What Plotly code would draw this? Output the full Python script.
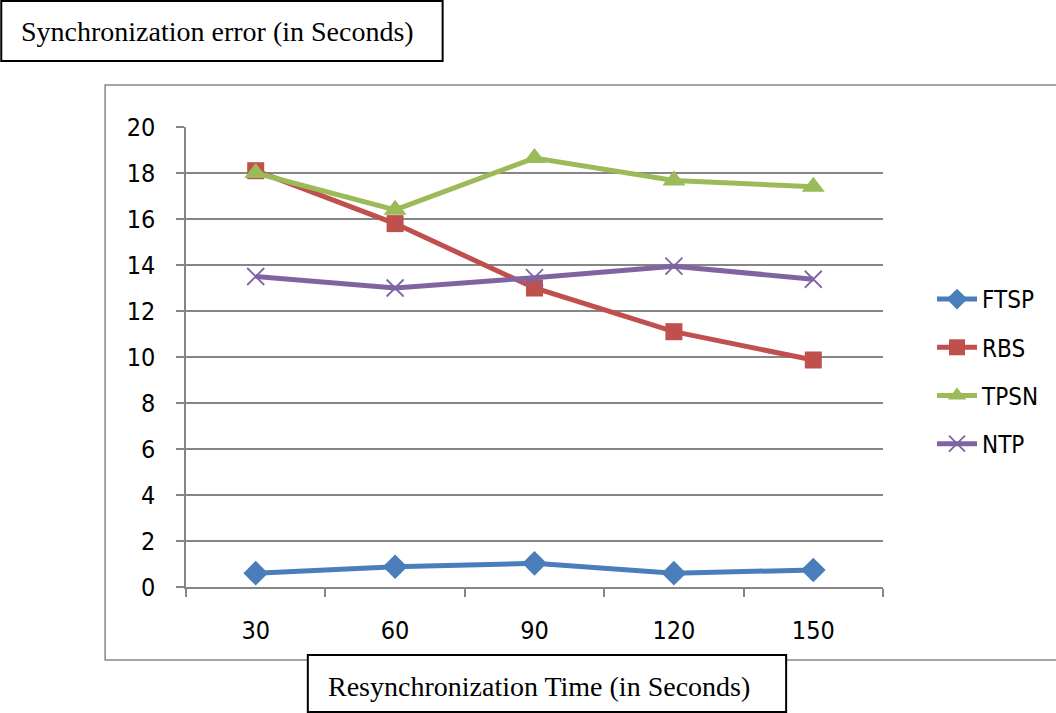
import plotly.graph_objects as go

# Resynchronization interval (s) and measured synchronization error (s)
resync_time = ["30", "60", "90", "120", "150"]
ftsp = [0.60, 0.88, 1.03, 0.60, 0.74]
rbs = [18.1, 15.8, 13.0, 11.1, 9.87]
tpsn = [18.0, 16.4, 18.65, 17.67, 17.4]
ntp = [13.5, 13.0, 13.45, 13.95, 13.38]

series = [
    ("FTSP", ftsp, "#4A7EBB", "diamond", 19),
    ("RBS", rbs, "#C0504D", "square", 17),
    ("TPSN", tpsn, "#9BBB59", "triangle-up", 20),
    ("NTP", ntp, "#8064A2", "x-thin", 17),
]

W, H = 1056, 713
L, R, T, B = 186, 884, 127, 587  # plot area in pixels


def px(x):
    return (x - L) / (R - L)


def py(y):
    return (B - y) / (B - T)


fig = go.Figure()
for name, vals, color, sym, size in series:
    marker = dict(symbol=sym, size=size, color=color)
    if sym == "x-thin":
        marker["line"] = dict(color=color, width=1.8)
    fig.add_trace(go.Scatter(
        x=resync_time, y=vals, name=name, legendgroup=name,
        mode="lines+markers",
        line=dict(color=color, width=5),
        marker=marker,
    ))

axis_font = dict(family="Liberation Sans Narrow, DejaVu Sans Condensed, Arial Narrow, sans-serif",
                 size=25, color="#000000")
legend_font = dict(axis_font, size=24)

fig.update_layout(
    width=W, height=H,
    margin=dict(l=L, r=W - R, t=T, b=H - B, pad=0),
    paper_bgcolor="white", plot_bgcolor="white",
    showlegend=True,
    legend=dict(
        x=px(932), y=py(277), xanchor="left", yanchor="top",
        font=legend_font, tracegroupgap=14, itemwidth=40,
        bgcolor="rgba(0,0,0,0)",
    ),
    xaxis=dict(
        type="category", range=[-0.5, 4.5],
        showgrid=False, showline=True, linecolor="#868686", linewidth=1.5,
        ticks="outside", tickson="boundaries", ticklen=8, tickwidth=1.5,
        tickcolor="#868686", tickfont=axis_font, ticklabelstandoff=20,
        zeroline=False,
    ),
    yaxis=dict(
        range=[0, 20], tickvals=list(range(0, 21, 2)),
        showgrid=True, gridcolor="#868686", gridwidth=1.5,
        showline=True, linecolor="#868686", linewidth=1.5,
        ticks="outside", ticklen=8, tickwidth=1.5, tickcolor="#868686",
        tickfont=axis_font, ticklabelstandoff=16, zeroline=False,
    ),
)

shapes = [
    # chart area border
    dict(type="rect", xref="paper", yref="paper",
         x0=px(105), x1=px(1070), y0=py(660), y1=py(85),
         line=dict(color="#868686", width=1.5), fillcolor="rgba(0,0,0,0)", layer="below"),
    # y-title box
    dict(type="rect", xref="paper", yref="paper",
         x0=px(1), x1=px(443), y0=py(61), y1=py(1),
         line=dict(color="#000000", width=2), fillcolor="white"),
    # x-title box
    dict(type="rect", xref="paper", yref="paper",
         x0=px(308), x1=px(787), y0=py(712), y1=py(655),
         line=dict(color="#000000", width=2), fillcolor="white"),
]
fig.update_layout(shapes=shapes)

title_font = dict(family="Liberation Serif, Times New Roman, serif", size=28, color="#000000")
fig.add_annotation(text="Synchronization error (in Seconds)", xref="paper", yref="paper",
                   x=px(218), y=py(32), xanchor="center", yanchor="middle",
                   showarrow=False, font=title_font)
fig.add_annotation(text="Resynchronization Time (in Seconds)", xref="paper", yref="paper",
                   x=px(540), y=py(686), xanchor="center", yanchor="middle",
                   showarrow=False, font=title_font)

fig.write_html("out.html")
